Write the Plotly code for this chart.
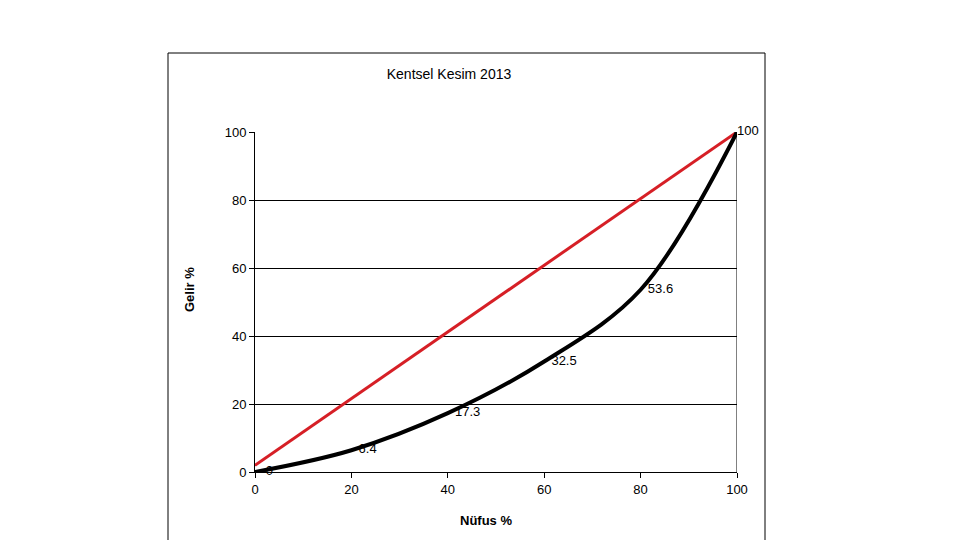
import plotly.graph_objects as go

title_text = "Kentsel Kesim 2013"
x_label = "Nüfus %"
y_label = "Gelir %"

nufus = [0, 20, 40, 60, 80, 100]
gelir = [0, 6.4, 17.3, 32.5, 53.6, 100]
gelir_labels = ["0", "6.4", "17.3", "32.5", "53.6", "100"]

esitlik_x = [0, 100]
esitlik_y = [2, 100]

tick_vals = [0, 20, 40, 60, 80, 100]

FONT = "Liberation Sans, Arial, sans-serif"
NB = "\u00a0"
label_pads = [3, 2, 2, 2, 2, 0]

fig = go.Figure()

fig.add_trace(go.Scatter(
    x=esitlik_x, y=esitlik_y, mode="lines",
    line=dict(color="#d61f26", width=3),
    hoverinfo="skip", showlegend=False,
))

fig.add_trace(go.Scatter(
    x=nufus, y=gelir, mode="lines+text",
    line=dict(color="black", width=4, shape="spline", smoothing=1.0),
    text=[NB * p + t for p, t in zip(label_pads, gelir_labels)],
    textposition="middle right",
    textfont=dict(family=FONT, size=13, color="black"),
    cliponaxis=False,
    showlegend=False,
))

# page body has an 8px margin: compensate
fig.update_layout(
    width=960, height=540,
    margin=dict(l=247, r=231, t=124, b=76),
    paper_bgcolor="white", plot_bgcolor="white",
    font=dict(family=FONT, size=12, color="black"),
    title=dict(text=title_text, x=(441 / 960), xanchor="center",
               y=1 - 66 / 540, yanchor="middle",
               font=dict(family=FONT, size=14, color="black")),
    showlegend=False,
)

fig.update_xaxes(
    range=[0, 100], tickvals=tick_vals, showgrid=False, zeroline=False,
    showline=True, linecolor="black", linewidth=1,
    ticks="outside", ticklen=5, tickcolor="black",
    tickfont=dict(family=FONT, size=13),
)
fig.update_yaxes(
    range=[0, 100], tickvals=tick_vals, showgrid=True, gridcolor="black",
    gridwidth=1, zeroline=False,
    showline=True, linecolor="black", linewidth=1,
    ticks="outside", ticklen=5, tickcolor="black",
    tickfont=dict(family=FONT, size=13),
)

# axis titles as annotations (positioned as in the reference)
fig.add_annotation(text="<b>" + x_label + "</b>", xref="paper", yref="paper",
                   x=(486 - 255) / 482, y=(472 - 520) / 340,
                   xanchor="center", yanchor="middle", showarrow=False,
                   font=dict(family=FONT, size=13, color="black"))
fig.add_annotation(text="<b>" + y_label + "</b>", xref="paper", yref="paper",
                   x=(189 - 255) / 482, y=(472 - 290) / 340, textangle=-90,
                   xanchor="center", yanchor="middle", showarrow=False,
                   font=dict(family=FONT, size=13, color="black"))

# right plot-area border (gray)
fig.add_shape(type="line", xref="x", yref="y", x0=100, x1=100, y0=0, y1=100,
              line=dict(color="#808080", width=2), layer="below")
# outer chart frame
fig.add_shape(type="rect", xref="paper", yref="paper",
              x0=(168 - 255) / 482, x1=(765 - 255) / 482,
              y0=-0.4, y1=(472 - 53) / 340,
              line=dict(color="black", width=1), layer="below")

fig.write_html("out.html")
